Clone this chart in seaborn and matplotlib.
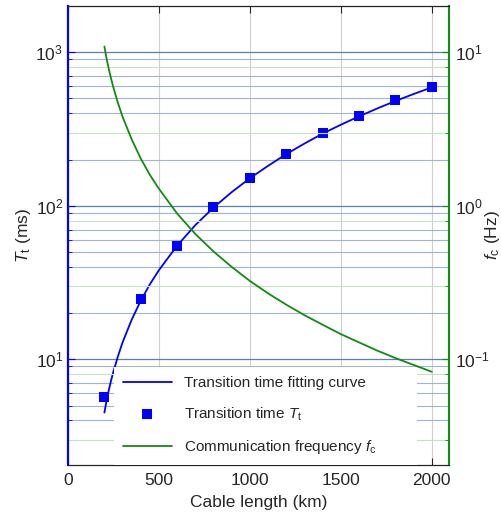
import matplotlib
matplotlib.use('Agg')
import matplotlib.pyplot as plt
import seaborn as sns
from matplotlib.ticker import LogLocator, NullFormatter, LogFormatterMathtext

# Data
fit_length = [200, 212.5, 225, 237.5, 250, 275, 300, 350, 400, 450, 500, 600, 700,
              800, 900, 1000, 1100, 1200, 1300, 1400, 1500, 1600, 1700, 1800, 1900, 2000]
fit_time = [4.5, 5.43, 6.36, 7.34, 8.36, 10.5, 12.9, 18.1, 24.1, 30.8, 38.1, 55.0, 74.8,
            97.3, 122.7, 151, 182, 217, 254, 295, 337, 382, 430, 481, 534, 590]
meas_length = [200, 400, 600, 800, 1000, 1200, 1400, 1600, 1800, 2000]
meas_time = [5.7, 24.6, 55, 98, 151, 217, 296, 384, 485, 590]
freq = [10.9, 9.02, 7.70, 6.68, 5.86, 4.65, 3.80, 2.71, 2.03, 1.59, 1.29, 0.89, 0.655,
        0.504, 0.40, 0.324, 0.269, 0.227, 0.194, 0.168, 0.146, 0.129, 0.114, 0.102, 0.092, 0.083]

sns.set_style('white')
plt.rcParams['font.family'] = ['Liberation Sans', 'DejaVu Sans']
plt.rcParams['mathtext.fontset'] = 'custom'
plt.rcParams['mathtext.rm'] = 'Liberation Sans'
plt.rcParams['mathtext.it'] = 'Liberation Sans:italic'

blue = '#0000ff'
green = '#138a13'

fig = plt.figure(figsize=(5.02, 5.16), dpi=100)
ax = fig.add_subplot(111)
fig.subplots_adjust(left=0.1355, right=0.8944, top=0.9884, bottom=0.0988)

sns.lineplot(x=fit_length, y=fit_time, ax=ax, color=blue, lw=1.3,
             label='Transition time fitting curve')
sns.scatterplot(x=meas_length, y=meas_time, ax=ax, color=blue, marker='s', s=48,
                edgecolor=blue, linewidth=0, label='Transition time $T_\\mathrm{t}$', zorder=3)
ax.set_yscale('log')
ax.set_xlim(0, 2095)
ax.set_ylim(2.05, 2000)
ax.set_xticks([0, 500, 1000, 1500, 2000])
ax.yaxis.set_major_locator(LogLocator(base=10))
ax.yaxis.set_minor_locator(LogLocator(base=10, subs=(2, 4, 5, 6, 7, 9)))
ax.yaxis.set_major_formatter(LogFormatterMathtext())
ax.yaxis.set_minor_formatter(NullFormatter())
ax.set_axisbelow(True)
ax.grid(axis='y', which='major', color='#5b7fb0', lw=0.9)
ax.grid(axis='y', which='minor', color='#9fb5d6', lw=0.8)
ax.grid(axis='x', which='major', color='#cfcfcf', lw=0.8)
ax.tick_params(axis='both', which='both', direction='in', labelsize=12.5, top=True,
               left=True, right=False, bottom=True)
ax.tick_params(axis='y', which='major', length=5, color=blue)
ax.tick_params(axis='y', which='minor', length=3, color=blue)
ax.tick_params(axis='x', length=5, pad=6)
ax.set_xlabel('Cable length (km)', fontsize=12.5, labelpad=5)
ax.set_ylabel('$T_\\mathrm{t}$ (ms)', fontsize=12.5, labelpad=2)

ax2 = ax.twinx()
sns.lineplot(x=fit_length, y=freq, ax=ax2, color=green, lw=1.3,
             label='Communication frequency $f_\\mathrm{c}$')
ax2.set_yscale('log')
ax2.set_ylim(0.0205, 20)
ax2.yaxis.set_major_locator(LogLocator(base=10))
ax2.yaxis.set_minor_locator(LogLocator(base=10, subs=(3, 8)))
ax2.yaxis.set_major_formatter(LogFormatterMathtext())
ax2.yaxis.set_minor_formatter(NullFormatter())
ax2.grid(axis='y', which='minor', color='#c4e3c4', lw=0.8)
ax2.tick_params(axis='y', which='both', direction='in', labelsize=12.5, color=green, pad=4)
ax2.tick_params(axis='y', which='major', length=5)
ax2.tick_params(axis='y', which='minor', length=3)
ax2.set_ylabel('$f_\\mathrm{c}$ (Hz)', fontsize=12.5)
ax2.yaxis.set_label_coords(1.088, 0.5)

for a in (ax, ax2):
    a.spines['left'].set_color(blue)
    a.spines['left'].set_linewidth(1.5)
    a.spines['right'].set_color(green)
    a.spines['right'].set_linewidth(1.5)
    a.spines['top'].set_color('#222222')
    a.spines['bottom'].set_color('#222222')

h1, l1 = ax.get_legend_handles_labels()
h2, l2 = ax2.get_legend_handles_labels()
ax.get_legend().remove()
leg = ax2.legend(h1 + h2, l1 + l2, loc='lower left', bbox_to_anchor=(0.12, 0.0, 0.796, 0.216),
                 mode='expand', borderaxespad=0, fontsize=11, frameon=True, fancybox=False,
                 facecolor='white', edgecolor='none', framealpha=1,
                 handlelength=3.2, labelspacing=1.0, borderpad=0.6)

fig.savefig('out.png', dpi=100)
